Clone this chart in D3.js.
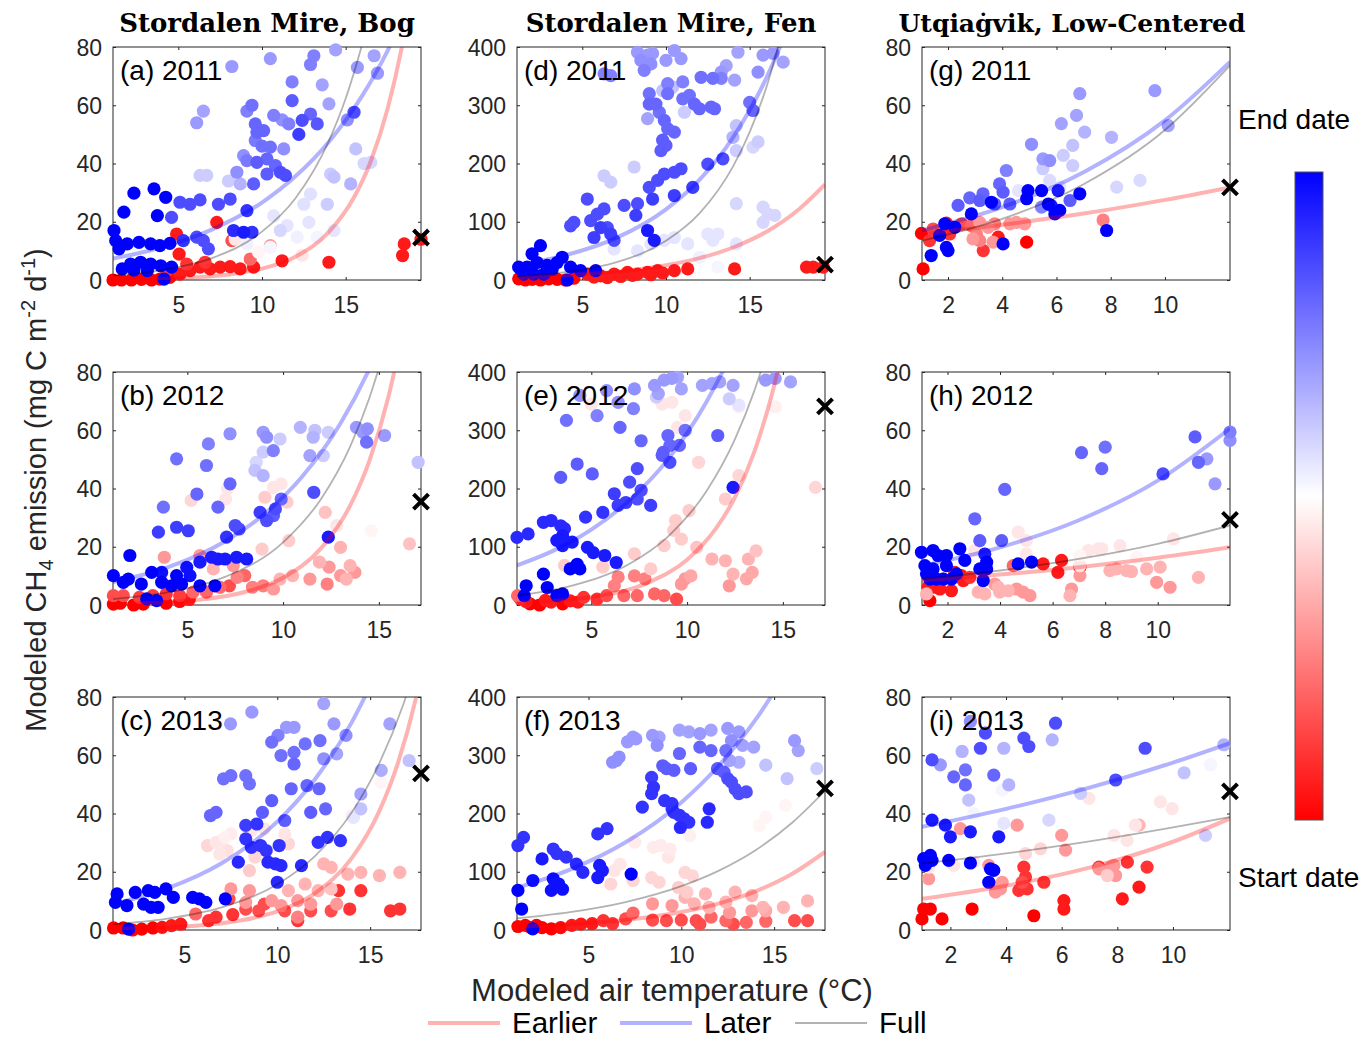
<!DOCTYPE html>
<html><head><meta charset="utf-8">
<script src="https://cdn.jsdelivr.net/npm/d3@7"></script>
<style>body{margin:0;background:#fff} svg{display:block}</style>
</head><body><svg id="chart" width="1364" height="1038"></svg>
<script>
// ---------------- DATA ----------------
const panelLetters = ['a','b','c','d','e','f','g','h','i'];
const panelYears = ['2011','2012','2013','2011','2012','2013','2011','2012','2013'];
const siteTitles = ['Stordalen Mire, Bog','Stordalen Mire, Fen','Utqiaġvik, Low-Centered'];
const xDomains = [[1.1,19.5],[1.12,17.2],[1.15,17.74],[1.1,19.5],[1.12,17.2],[1.15,17.74],[1.04,12.4],[1.03,12.75],[0.98,12.05]];
const yMaxBySite = [80,400,80];
const xTicksBySite = [[5,10,15],[5,10,15],[2,4,6,8,10]];
const yTicksBySite = [[0,20,40,60,80],[0,100,200,300,400],[0,20,40,60,80]];
const legendLabels = ['Earlier','Later','Full'];
const colorbarLabels = ['End date','Start date'];

// points: [temperature, emission, date fraction (0 = start, 1 = end)]
const points_a = [[8.2,73.3,.7],[10.5,76,.7],[13.1,77,.75],[12.9,74,.75],[14.4,79,.68],[16.7,77,.68],[15.7,73,.7],[16.9,71,.7],[11.8,68,.75],[13.6,67,.68],[11.8,61.6,.82],[14.0,60.5,.68],[9.1,58,.75],[9.4,60,.78],[6.5,58,.68],[6.1,54,.7],[10.7,56.5,.75],[11.2,55,.72],[11.6,53.6,.75],[9.6,53.6,.8],[9.7,50.7,.8],[10.1,51.3,.8],[12.9,57,.8],[12.4,54.8,.85],[13.3,53.6,.83],[12.2,50,.88],[15.5,57.6,.85],[15.1,55,.72],[15.6,45,.62],[9.6,47.9,.76],[10.0,46,.78],[10.5,45.6,.78],[11.3,45,.72],[8.9,42.7,.72],[9.1,41,.76],[9.7,40.4,.82],[10.3,41.6,.8],[10.8,39.3,.8],[6.3,35.9,.6],[6.7,35.9,.6],[8.0,34,.6],[8.5,37,.72],[8.7,33,.65],[9.5,33,.82],[10.3,36.4,.82],[11.1,37,.85],[11.4,35.9,.85],[14.1,36.4,.6],[14.3,35.3,.62],[15.3,33,.65],[16.5,40.4,.58],[16.1,40,.58],[12.9,29.5,.56],[12.5,26,.56],[13.9,26,.6],[10.7,22,.55],[11.5,18.7,.55],[11.1,17,.58],[12.8,19.8,.55],[14.3,17,.55],[12.1,14.7,.53],[13.3,14.7,.52],[9.1,12.4,.53],[10.5,11.2,.52],[9.8,9.5,.48],[8.4,14,.45],[11.6,13,.5],[12.4,8.5,.45],[10,18,.5],
[5.1,26.7,.85],[5.7,26,.85],[6.3,27.5,.85],[7.4,26,.85],[8.1,27.8,.85],[4.6,21.5,.85],[9.1,23.8,.9],[5.3,13.5,.9],[6.1,14.7,.85],[6.5,13.5,.85],[6.8,10.7,.85],[8.3,17,.92],[8.9,16.4,.95],[9.4,16.4,.9],
[1.16,17,1],[1.26,13.5,1],[1.46,10.7,1],[1.95,12.4,1],[2.65,12.9,1],[3.35,12.4,1],[3.9,11.8,1],[4.5,12.6,1],[1.75,23.3,1],[2.35,29.8,1],[3.55,31.3,1],[4.25,28.4,1],[3.75,22.1,1],[1.65,3.8,1],[2.15,5.5,1],[2.75,6.1,1],[3.35,5.5,1],[3.95,4.9,1],[4.6,4.4,1],[4.15,0.3,1],[2.35,3.4,1],[3.15,3.2,1],
[1.1,0,0],[1.6,0,0],[2.2,0,0],[2.8,0.2,0],[3.4,0,0],[3.9,0.3,0],[4.5,0.9,.02],[5.1,2,.05],[5.7,3.2,.05],[6.3,4.4,.05],[6.9,3.8,.05],[7.5,4.4,.05],[8.1,4.6,.05],[8.7,3.8,.05],[9.5,4.4,.05],[11.2,6.6,.05],[14.0,6.1,.05],[18.4,8.4,.05],[18.5,12.4,.05],[19.5,14,.05],[4.9,15.8,.05],[5.05,8.9,.05],[7.3,19.8,.05],[8.2,13.5,.15],[9.3,7.2,.2],[10.5,11.8,.3],[4.3,3.2,.1],[5.5,5.5,.1],[6.6,6.1,.1]];

const points_b = [[4.44,50.2,.78],[6.1,55.3,.75],[7.23,58.8,.72],[6.0,47.9,.78],[5.5,38.1,.8],[3.75,33.6,.78],[7.23,41.6,.8],[6.6,33.6,.8],[8.96,59.3,.7],[9.14,57.6,.72],[9.84,57,.6],[9.49,53,.75],[8.96,52.5,.6],[8.53,46.2,.62],[8.96,44.4,.65],[8.6,49,.58],[10.9,61,.65],[11.66,60,.62],[12.36,59.3,.6],[11.57,57.6,.65],[11.4,51.3,.68],[12.1,51.3,.6],[13.83,61,.7],[14.18,59.3,.7],[14.4,60.5,.72],[15.3,58.2,.7],[14.36,55.9,.78],[17.05,49,.62],
[11.6,38.7,.85],[9.9,36.4,.8],[9.6,33,.85],[8.8,31.8,.88],[9.14,29,.85],[9.5,30.7,.82],[7.5,27.3,.85],[7.7,26.1,.85],[7.05,23.3,.9],[12.36,23.3,.95],[4.44,26.7,.88],[5.05,25.5,.88],[3.49,25,.88],
[2.0,17,1],[1.14,10.1,1],[1.66,7.8,1],[1.92,8.9,1],[2.6,7.2,1],[3.14,11.2,1],[3.66,11.2,.97],[4.18,6.6,1],[4.7,7.2,1],[4.97,12.9,.97],[5.14,10.1,.97],[5.66,14.7,.95],[6.27,16.4,.95],[6.6,15.8,.95],[6.97,15.8,.95],[7.57,16.4,.95],[8.1,15.8,.95],[6.44,6.6,1],[2.88,2.1,1],[3.4,1.5,1],[3.66,7.8,1],[4.44,10.1,1],[5.66,6.6,1],
[1.14,0.3,0],[1.5,0.6,0],[2.2,0,0],[2.7,0.3,0],[3.9,0.6,0],[4.6,1.2,.02],[5.1,1.9,.05],[1.14,3.2,.15],[1.66,3.2,.15],[2.5,2.6,.12],[3.2,3.2,.12],[3.9,3.8,.1],[4.6,3.2,.12],[5.3,4.4,.2],[6.0,4.4,.2],[6.7,6.1,.2],[7.2,6.6,.15],[7.6,9.5,.25],[7.4,13.5,.3],[8.0,10.1,.2],[8.4,6.1,.25],[8.96,6.6,.25],[9.5,5.5,.3],[9.84,8.9,.35],[10.5,10.1,.35],[10.3,22.1,.4],[8.9,19.2,.4],[5.66,17,.3],[3.8,16.4,.3],[6.36,12.4,.35],
[5.2,35.9,.42],[7.1,40,.45],[9.5,40.4,.45],[9.9,41.6,.45],[7.0,36.4,.45],[9.05,37,.4],[10.2,35.3,.4],[12.2,31.8,.38],[12.8,27.3,.45],[14.6,25.5,.48],[16.6,21,.38],[13.0,19.8,.35],[11.9,14.7,.35],[12.4,13,.3],[13.5,13.5,.35],[13.0,10.1,.3],[11.4,8.9,.3],[12.3,7.2,.25],[13.3,8.9,.35],[13.75,11.2,.3]];

const points_c = [[7.48,70.8,.7],[8.63,74.8,.7],[12.5,77.7,.68],[10.5,69.6,.7],[10.9,69.6,.7],[10.04,66.8,.75],[13.05,70.8,.7],[16.06,70.8,.68],[13.7,66.8,.72],[13.2,60.5,.68],[12.5,58.8,.72],[15.6,54.8,.66],[17.1,58.2,.62],[14.5,46.7,.68],[14.5,41.6,.62],[14.1,38.7,.55],
[9.7,64.5,.78],[10.2,59.9,.78],[10.9,61,.78],[10.9,57,.8],[11.5,63.9,.78],[12.3,65,.78],[10.75,48.5,.8],[11.6,49.6,.8],[12.25,48.5,.8],[8.3,53,.78],[8.5,50.2,.78],[7.1,51.9,.78],[7.5,53,.78],[6.4,39.3,.8],[6.7,40.4,.8],[9.7,44.4,.82],[9.2,40.4,.82],[10.4,37.6,.82],[11.8,40.4,.82],[12.6,41.6,.8],
[8.3,35.9,.88],[8.9,36.4,.9],[8.3,31.3,.9],[8.6,28.4,.9],[9.1,29,.9],[9.4,27.3,.9],[10.1,29,.9],[7.9,23.3,.92],[9.5,23.3,.92],[9.9,22.7,.92],[10.2,22.1,.92],[11.3,22.1,.92],[10,16.4,.92],[12.2,30.1,.9],[12.7,31.8,.9],[13.4,30.7,.9],
[1.37,12.4,1],[1.28,9.5,1],[1.9,8.4,1],[2.35,12.9,1],[3.05,13.5,1],[3.4,12.9,1],[4.0,14.1,1],[2.8,8.9,1],[3.2,7.8,1],[3.58,7.8,1],[4.4,11.2,1],[5.44,11.2,1],[5.8,10.7,1],[6.15,9.5,1],[7.2,10.7,1],[1.99,0.3,1],
[6.24,29,.42],[6.7,30.1,.45],[7.0,30.7,.45],[7.2,31.8,.47],[7.5,33,.46],[7.3,27.3,.44],[6.9,26.1,.45],[8.5,20.4,.4],[8.8,25,.42],[8.6,34.1,.45],[10.4,33,.45],[10.6,29.6,.42],[9.3,34.7,.45],[14,39.3,.47],[15.6,50.7,.48],
[12.5,22.7,.35],[12.9,21.5,.35],[13.8,19.2,.35],[14.5,19.8,.35],[15.5,18.7,.35],[16.6,19.8,.35],[11.5,15.8,.35],[12.2,13.5,.35],[12.9,14.1,.38],[10.6,13.5,.35],[11.1,10.1,.3],[9.7,10.1,.3],[10.2,8.4,.3],[8.3,9.5,.3],[7.5,14.1,.3],[8.5,13.5,.3],[11.8,8.9,.3],[13.2,8.9,.3],[11.1,4.4,.25],
[1.18,0.7,0],[1.7,0.7,0],[2.2,0,0],[2.7,0.3,0],[3.3,0.7,0],[3.8,0.9,.03],[4.3,1.5,.05],[4.8,2,.05],[5.6,5.5,.2],[6.3,3.2,.1],[6.7,4.4,.1],[7.6,5.3,.1],[8.3,7.2,.15],[9.0,6.6,.15],[9.3,8.9,.15],[11.1,3.2,.1],[10.4,6.6,.15],[11.8,6.6,.15],[12.9,6.6,.15],[13.3,13.5,.1],[14.5,13.5,.1],[13.9,7.2,.1],[16.1,6.6,.1],[16.6,7.2,.1],[7.4,10.7,.15]];

const points_d = [[8.3,391,.7],[8.9,386,.7],[9.2,389,.7],[10,377,.7],[10.5,394,.7],[10.9,380,.7],[14.3,391,.68],[15.8,386,.7],[16.4,389,.7],[17.0,374,.68],[15.5,357,.72],[13.6,368,.68],[13.3,357,.7],[6.3,354,.75],[6.7,351,.75],[8.7,360,.75],[9.1,371,.72],[8.5,377,.72],[10.1,337,.75],[10.4,331,.62],[11,340,.75],[12.1,348,.78],[12.8,346,.78],[13.3,346,.75],[14.1,343,.68],[9.0,320,.78],[9.8,325,.62],[10.1,320,.78],[11,311,.78],[11.4,317,.78],[11.7,302,.8],[12,294,.8],[12.7,297,.8],[12.9,294,.8],[9,302,.8],[9.4,302,.8],[9.6,288,.78],[8.9,277,.68],[9.9,274,.8],[10.1,260,.8],[10.5,254,.8],[11.1,288,.6],[9.8,240,.82],[9.7,222,.82],[10,231,.82],[15,305,.78],[15.2,291,.8],[14,245,.65],[14.2,265,.62],[15.5,237,.6],[15.2,228,.58],[14.2,222,.6],[6.3,179,.6],[6.7,168,.6],[8.1,194,.6],[14.2,131,.58],[15.8,125,.58],[16.1,113,.58],[15.8,99,.58],[16.5,111,.58],[12.5,79,.55],[13.1,79,.55],[12.8,68,.55],[14.2,62,.55],[10.5,73,.55],[11.3,62,.55],[8.3,50,.55],[9.1,62,.55],[9.9,68,.55],[6.9,53,.55],[12,39,.53],[13.1,22,.52],
[13.4,208,.85],[12.5,199,.85],[11.6,159,.88],[10.5,185,.85],[10.9,191,.85],[9.9,182,.85],[9.5,171,.85],[9.2,139,.88],[9,159,.85],[8.3,131,.85],[8.2,111,.88],[7.5,128,.85],[10.5,145,.88],[5.3,139,.85],[4.5,99,.85],[4.3,93,.85],[5.5,102,.85],[5.9,113,.85],[6.3,122,.85],[6.1,90,.88],[5.7,73,.88],[6.7,79,.88],[6.9,68,.85],[6.5,90,.85],[8.9,85,.95],[9.3,68,.95],
[2.5,59,1],[2,45,1],[1.3,19,1],[1.7,22,1],[2.3,30,1],[2.9,25,1],[3.5,30,1],[3.8,39,1],[4.3,22,1],[4.9,16,1],[5.8,16,1],[2.1,10,1],[4.1,0,1],[1.5,10,1],[2.7,10,1],[3.2,18,1],[1.2,22,1],
[1.2,2,0],[1.6,0,0],[2,1,0],[2.5,0,0],[3,2,0],[3.5,1,0],[4,0,0],[4.5,3,.02],[5.3,10,.05],[6.1,7,.05],[6.9,10,.05],[7.7,13,.05],[8.3,10,.05],[8.9,13,.05],[9.5,16,.05],[10.5,16,.05],[11.3,19,.05],[14.1,19,.05],[18.4,22,.05],[18.8,22,.05],[19.4,22,.05],[5.7,5,.05],[6.5,4,.05],[7.3,6,.05],[8,8,.05],[9.1,9,.05],[9.8,12,.05]];

const points_e = [[8.3,377,.7],[8.5,363,.68],[8.8,386,.7],[9.2,389,.7],[9.5,391,.68],[9.7,371,.68],[10.8,377,.68],[11.3,380,.68],[11.7,383,.68],[12.4,377,.68],[12.2,354,.6],[12.7,343,.55],[14.1,386,.7],[14.6,389,.7],[15.4,383,.68],[8.4,357,.6],[4.4,360,.72],[5.8,368,.72],[6.4,348,.72],[7.25,371,.72],[7.2,337,.75],[5.3,325,.75],
[5,345,.45],[8.7,345,.45],[9.2,348,.45],[9.9,325,.45],[14.6,340,.47],[12.7,340,.47],[9.5,305,.45],
[3.7,317,.78],[6.5,305,.8],[7.6,282,.8],[9.9,300,.78],[9,291,.8],[9.1,274,.8],[9.6,274,.8],[8.75,262,.82],[8.7,257,.82],[9.1,245,.85],[11.6,291,.82],[3.4,219,.82],[4.26,242,.82],[5.05,225,.82],[7.4,234,.85],[7.0,211,.85],[7.6,197,.85],[7.4,182,.85],[8.1,171,.88],[6.2,191,.88],[6.4,171,.88],[6.8,176,.88],
[1.12,116,.92],[1.7,122,.92],[2.5,142,.92],[2.9,145,.92],[3.4,136,.92],[3.6,131,.92],[3.5,119,.95],[3.2,111,.95],[3.5,102,.95],[4.0,108,.95],[4.7,151,.9],[5.6,159,.9],[4.8,99,.95],[5.1,90,.95],[5.7,85,.95],[6.3,73,.95],[4.26,70,1],[4.4,62,1],[3.9,62,1],[2.5,53,1],[1.6,33,1],[2.7,30,1],[3.2,16,1],[3.5,19,1],[1.5,16,1],[12.4,202,.95],
[10.6,245,.42],[12.7,222,.42],[12,182,.4],[10.1,162,.4],[9.4,145,.4],[9.3,128,.4],[9.7,113,.4],[8.8,102,.4],[16.7,202,.42],[7.25,88,.4],[8.1,62,.4],[5.6,65,.4],[3.6,68,.4],[10.5,99,.38],
[11.3,79,.35],[12,76,.35],[12.4,53,.35],[13.2,79,.35],[13.6,93,.38],[13.1,45,.33],[12.2,33,.3],[13.4,56,.33],[10.2,50,.33],
[6.4,48,.25],[7.25,50,.25],[7.8,45,.25],[6.2,33,.25],[6.7,16,.2],[7.4,16,.2],[8.3,19,.2],[8.8,16,.2],[9.45,10,.15],[9.7,36,.3],[9.9,45,.3],[5.8,16,.15],[4.6,13,.1],[5.3,10,.1],[4.3,5,.05],[1.15,16,.2],[1.3,10,.1],[1.8,2,0],[2.3,0,0],[2.9,5,.05],[3.5,2,0],[3.9,7,.05],[1.6,6,.05],[2.6,8,.05]];

const points_f = [[7.4,331,.7],[7.55,328,.7],[7.1,323,.7],[8.45,334,.7],[8.8,331,.68],[8.7,317,.72],[9.9,343,.68],[10.4,340,.68],[11,337,.7],[11.6,343,.68],[12.5,346,.7],[13.1,340,.7],[12.7,325,.72],[13.3,317,.68],[13.9,314,.68],[12.6,291,.68],[13.1,288,.66],[14.55,283,.62],[16.1,325,.7],[16.3,308,.68],[15.7,260,.62],[17.3,277,.6],[6.3,288,.72],[6.65,297,.72],[6.5,291,.72],
[11,314,.8],[11.6,308,.8],[9.9,303,.8],[9,282,.82],[9.2,277,.82],[9.6,274,.82],[10.5,277,.82],[11.95,277,.82],[12.3,271,.82],[12.5,260,.85],[12.7,254,.85],[12.9,242,.85],[13.1,234,.85],[13.5,237,.85],[12.4,308,.78],
[8.4,262,.88],[8.5,245,.9],[8.4,234,.9],[7.9,211,.9],[9.1,222,.9],[9.5,217,.9],[9.6,202,.9],[9.9,197,.9],[10.15,191,.9],[10.4,185,.9],[9.95,176,.92],[11.4,185,.92],[11.5,208,.92],[9.5,208,.9],[5.5,165,.9],[6,174,.9],[5.6,111,.95],[5.75,102,.95],[5.5,90,.95],[7.3,96,1],
[1.2,145,.9],[1.5,159,.9],[3.1,139,.9],[3.3,131,.9],[3.8,125,.9],[4.35,113,.92],[4.7,99,.92],[2.5,122,.95],[2,85,.97],[3.1,88,.97],[3.4,79,.97],[3,68,.97],[3.6,70,.97],[1.2,68,1],[1.4,36,1],[2,2,1],
[7.5,151,.46],[8.5,142,.46],[8.9,145,.46],[9.3,125,.45],[6.7,113,.45],[6.4,102,.45],[6.2,79,.42],[7.4,85,.42],[8.4,90,.42],[8.8,82,.42],[10.2,99,.42],[10.6,93,.42],[9.85,73,.4],[10.3,65,.4],[10.45,162,.47],[14.2,179,.48],[14.55,194,.48],[15.6,214,.48],[9.4,139,.46],
[10.2,56,.35],[10.7,45,.35],[11.5,39,.35],[12.4,48,.35],[12.9,65,.35],[13.8,59,.35],[14.4,39,.35],[14.55,33,.33],[15.5,39,.35],[16.8,50,.35],[13.8,33,.3],[12.6,30,.3],[8.45,45,.3],[9.5,42,.3],[11.3,62,.35],
[1.2,6,0],[1.9,4,0],[2.5,4,0],[3,2,0],[3.5,4,.02],[4.1,8,.05],[4.6,10,.05],[5.2,11,.05],[5.8,16,.1],[6.3,11,.1],[7,19,.15],[7.4,29,.2],[8.45,17,.15],[9.2,16,.15],[10,17,.15],[10.8,16,.15],[11.6,22,.2],[12.4,16,.2],[13.5,13,.2],[14.55,15,.2],[16.1,16,.15],[16.8,16,.15],[11,10,.15],[12.8,10,.15],[1.6,8,0],[2.2,8,0]];

const points_g = [[1.08,3.8,0],[1.02,16,0],[1.32,13.5,.1],[1.45,17.5,.15],[1.94,19.5,.05],[2.06,15.8,.1],[2.5,19.3,.15],[2.86,18.7,.2],[3.05,15.8,.25],[3.17,13.5,.25],[3.3,10.1,.1],[3.48,18.1,.3],[3.72,19.3,.25],[3.85,14.7,.05],[3.66,13,.3],[4.28,19.3,.3],[4.52,19.8,.3],[4.83,19.3,.3],[4.9,13,0],[7.72,20.6,.25],[3.17,19.8,.3],[2.92,14.1,.3],
[1.38,8.4,1],[1.69,15.3,1],[1.88,19.3,1],[1.94,11.2,1],[2.0,10.1,1],[2.25,18.1,1],[2.86,22.7,1],[3.6,26.7,1],[4.03,12.4,1],[4.9,27.9,1],[4.95,30.7,1],[5.45,30.7,1],[5.7,26.1,1],[5.8,25.6,.95],[5.94,22.7,1],[6.12,23.9,1],[6.06,30.7,.95],[6.86,29.6,1],[7.85,17,1],
[2.37,25.6,.82],[2.8,28.2,.8],[3.17,27.3,.82],[3.29,29.6,.8],[3.9,33,.8],[4.03,30.2,.82],[4.15,37.6,.75],[4.28,26.1,.82],[5.5,41.6,.7],[5.08,46.6,.72],[5.75,41,.72],[6.5,27.3,.82],[5.45,25,.75],[3.72,26.1,.82],
[6.18,53.7,.68],[6.74,56.5,.68],[6.86,64,.7],[7.04,50.8,.65],[6.6,46.2,.62],[6.25,42.8,.6],[6.6,39.3,.6],[5.5,38.2,.6],[5.75,34.2,.57],[4.6,30.7,.55],[8.03,49,.65],[8.22,31.9,.58],[9.08,34.2,.57],[9.63,65,.7],[10.12,53,.68],[6.12,31.9,.55]];

const points_h = [[1.01,18.1,1],[1.14,13.5,1],[1.33,8.9,1],[1.45,18.7,1],[1.64,17,1],[1.2,10.7,1],[1.84,8.9,1],[1.96,13.5,1],[1.96,17,1],[2.34,10.7,1],[2.47,19.3,1],[1.45,12.4,1],[2.15,8.9,1],[1.58,8.9,1],[2.66,15.3,1],[3.23,12.4,1],[3.49,14.7,1],[3.49,12.4,1],[3.36,8.4,1],[3.42,17.5,.95],[4.69,14.1,1],[5.2,14.7,1],
[3.04,29.6,.8],[3.23,22.1,.82],[4.06,22.1,.82],[4.18,39.7,.8],[7.1,52.3,.8],[7.87,46.8,.8],[8.0,54.2,.78],[10.2,45,.85],[11.42,57.7,.82],[11.55,49,.8],[12.75,59.4,.75],
[11.87,50.2,.7],[12.18,41.6,.7],[12.75,56.5,.72],
[3.04,18.7,.45],[4.69,25,.45],[5.0,22.1,.45],[5.0,17.5,.45],[7.04,17,.48],[7.36,18.7,.45],[7.74,19.3,.45],[7.87,19.3,.45],[8.56,20.4,.45],[9.2,16.4,.48],[10.6,22.7,.45],[11.6,23.9,.5],[7.04,13.5,.45],
[1.2,3.8,.35],[3.17,4.4,.35],[3.42,3.8,.35],[3.93,6.1,.35],[3.99,4.4,.35],[4.31,4.9,.35],[4.63,5.5,.3],[4.88,4.4,.3],[5.14,3.2,.3],[6.66,3.2,.35],[6.72,5.5,.3],[8.18,11.8,.35],[8.43,12.4,.35],[8.81,11.8,.35],[9.0,11.5,.35],[9.58,12.4,.35],[10.09,13,.35],[9.96,7.8,.3],[10.47,6.1,.3],[11.55,9.5,.35],[7.04,10.1,.3],[3.8,7.2,.3],
[1.33,1.5,0],[1.26,6.1,.05],[1.71,5.5,.05],[1.84,8.9,.1],[2.15,4.9,.05],[2.28,11.2,.05],[2.53,10.1,.05],[2.85,9.5,.1],[2.6,8.4,.05],[5.64,14.1,.05],[6.34,15.3,.05],[6.2,11.2,.05],[7.04,13,.05],[4.5,13.5,.2],[1.45,6.1,.05]];

const points_i = [[1.04,24.5,1],[1.1,22.2,1],[1.28,25.6,1],[1.34,23.9,1],[1.94,23.9,1],[2.72,23,1],[3.44,21,1],[3.56,20.5,1],[3.38,16.4,1],[1.34,37.7,.95],[1.82,36,.95],[2.0,32,.95],[2.72,33.7,.95],[3.74,32,.95],
[1.34,58.4,.85],[3.08,62.4,.85],[3.26,67.6,.85],[4.64,65.9,.85],[4.82,63,.85],[5.78,71,.85],[7.94,51.5,.85],[9.0,62.4,.85],[2.12,52.6,.8],[2.54,49.8,.8],[3.56,53.2,.8],[2.54,55,.78],
[1.64,56.7,.7],[2.42,61.3,.65],[2.72,71.6,.72],[3.92,62.4,.65],[4.1,49.8,.65],[2.66,44.6,.62],[5.66,65.3,.65],[6.68,46.9,.6],[5.54,37.7,.58],[3.92,36.6,.55],[3.86,48,.52],[10.4,54,.62],[11.17,32.5,.6],[11.83,63.6,.65],[11.35,56.7,.52],[2.84,40,.52],
[6.98,45.2,.45],[9.55,44,.45],[9.97,41.7,.45],[8.65,36,.45],[7.88,32.5,.45],[8.35,30.8,.45],[5.24,27.9,.42],[4.7,26.2,.42],[2.84,23.3,.45],[2.12,22.2,.45],[1.22,21.6,.45],[7.64,18.7,.4],
[2.36,34.8,.3],[4.4,36,.3],[6.0,32.5,.3],[6.14,27.4,.3],[7.76,21.6,.3],[7.88,22.2,.3],[7.34,21,.3],[8.78,36,.35],[1.22,17.6,.3],[3.38,22.2,.3],[3.86,16.4,.3],[3.68,14.7,.3],[3.62,13,.3],[3.8,14.1,.3],[7.94,18.7,.3],
[1.04,7.2,0],[0.98,3.8,0],[1.28,7.2,0],[1.7,3.8,0],[2.78,7.2,0],[5.0,4.9,0],[6.08,10.1,.05],[6.08,7.2,.05],[5.36,16.4,.1],[4.64,21.6,.1],[4.7,18.2,.1],[4.58,16.4,.15],[4.76,14.1,.1],[4.46,13.6,.1],[8.18,10.7,.05],[8.78,14.7,.05],[8.36,23.3,.1],[9.07,21.6,.1],[7.34,21.6,.1]];

// fitted curves: [temperature, emission]
const earlierCurves = [
 [[1.1,0.16],[5,0.64],[8,1.9],[10,3.9],[12,8.0],[14,16.5],[15.5,28.4],[16.5,40.8],[17.5,58.7],[18.3,78.4],[18.6,87.4]],
 [[1.12,0.35],[5,1.47],[8,4.46],[10,9.34],[12,19.6],[13.5,34.1],[14.5,49.4],[15.5,71.5],[16,86]],
 [[1.15,0.32],[5,1.18],[8,3.24],[10,6.37],[12,12.5],[14,24.6],[15.5,40.9],[16.5,57.4],[17.5,80.4],[17.74,87.2]],
 [[1.1,4.42],[4,7.8],[7,14.1],[10,25.4],[12,37.6],[14,55.8],[16,82.8],[18,122.8],[19.5,164]],
 [[1.12,3.57],[5,13.7],[8,38.8],[10,77.8],[11.5,131],[12.5,185],[13.5,262],[14.5,371],[15,441]],
 [[1.15,5.75],[5,12],[8,21.2],[10,31],[12,45.4],[14,66.4],[16,97],[17.74,134]],
 [[1.04,15.8],[4,19],[7,22.8],[10,27.5],[12.4,31.8]],
 [[1.03,8.41],[4,10.45],[7,13.0],[10,16.2],[12.75,19.8]],
 [[0.98,10.7],[4,15.2],[7,21.4],[10,30.3],[12.05,38.3]]];
const laterCurves = [
 [[1.1,7.35],[4,11.2],[7,17.3],[10,26.6],[12,35.6],[14,47.5],[16,63.4],[17.5,78.7],[18,84.7]],
 [[1.12,7.9],[4,13],[7,22],[9,31.1],[11,44.1],[13,62.4],[14.4,79.6],[15,88.4]],
 [[1.15,8.9],[4,14.1],[7,22.9],[10,37.2],[12,51.5],[14,71.2],[15,83.7]],
 [[1.1,25.7],[4,42.5],[7,71.8],[10,121.4],[12,172],[14,244.5],[16,347],[17,413]],
 [[1.12,68.2],[3,93],[5,129.4],[7,180],[9,250],[11,348],[12,410.6],[12.5,446]],
 [[1.15,72.3],[4,103.5],[7,150.6],[10,219],[12,281.5],[14,361],[15,409]],
 [[1.04,17.0],[4,25.0],[7,37.0],[10,54.8],[12.4,74.9]],
 [[1.03,13.5],[4,19.8],[7,29.1],[10,42.7],[12.75,60.6]],
 [[0.98,35.4],[4,41.6],[7,48.9],[10,57.5],[12.05,64.2]]];
const fullCurves = [
 [[1.1,1.57],[4,3.38],[7,7.48],[10,16.6],[12,28.1],[14,47.8],[15,62.3],[16,81.2],[16.5,92]],
 [[1.12,2.05],[4,4.39],[7,9.72],[10,21.5],[12,36.6],[13.5,54.4],[14.5,71],[15.5,92.4]],
 [[1.15,2.0],[4,3.84],[7,7.77],[10,15.7],[12,25.2],[14,40.3],[15.5,57.3],[16.8,77.7],[17.2,85.4]],
 [[1.1,6.35],[4,13.6],[7,30.2],[10,67.3],[12,114.4],[14,194.7],[15,254],[16,331],[17,432]],
 [[1.12,16],[4,33.1],[7,70.8],[9,117.5],[11,194.8],[12.5,284.6],[13.5,366.7],[14.2,437]],
 [[1.15,19.9],[4,30.6],[7,48],[10,75.3],[12,101.6],[14,137],[16,185],[17.74,239]],
 [[1.04,13.5],[4,21.0],[7,32.9],[10,51.5],[12.4,73.7]],
 [[1.03,8.92],[4,11.85],[7,15.8],[10,21.0],[12.75,27.3]],
 [[0.98,22.8],[4,26.3],[7,30.4],[10,35.2],[12.05,38.8]]];
// black x markers at the right edge
const obsMarkers = [[19.5,14.6],[17.2,35.5],[17.74,53.8],[19.5,26.5],[17.2,341],[17.74,243],[12.4,31.8],[12.75,29.2],[12.05,47.6]];

const pointsByPanel = [points_a,points_b,points_c,points_d,points_e,points_f,points_g,points_h,points_i];

// ---------------- DRAW ----------------
const svg = d3.select('#chart');
const sans = 'Liberation Sans, Arial, Helvetica, sans-serif';
const colLeft = [113,517,922], rowTop = [47,372,697], W = 308, H = 233;
const axisColor = '#262626';
const dateColor = d3.scaleLinear().domain([0,0.5,1]).range(['#ff0000','#ffffff','#0000ff']);
const lineStyles = [
  {stroke:'rgba(255,0,0,0.3)', width:4},
  {stroke:'rgba(0,0,255,0.3)', width:4},
  {stroke:'rgba(0,0,0,0.3)', width:1.8}
];
const defs = svg.append('defs');

panelLetters.forEach((letter, p) => {
  const col = Math.floor(p/3), row = p%3;
  const gx = colLeft[col], gy = rowTop[row];
  const g = svg.append('g').attr('transform', `translate(${gx},${gy})`);
  const x = d3.scaleLinear().domain(xDomains[p]).range([0,W]);
  const y = d3.scaleLinear().domain([0,yMaxBySite[col]]).range([H,0]);

  defs.append('clipPath').attr('id','clip'+p).append('rect').attr('width',W).attr('height',H);

  // axes (inward ticks on all four sides)
  const fmt = d3.format('d');
  const ax = [
    g.append('g').attr('transform',`translate(0,${H})`).call(d3.axisBottom(x).tickValues(xTicksBySite[col]).tickSize(-3).tickSizeOuter(0).tickPadding(10).tickFormat(fmt)),
    g.append('g').call(d3.axisLeft(y).tickValues(yTicksBySite[col]).tickSize(-3).tickSizeOuter(0).tickPadding(10).tickFormat(fmt)),
    g.append('g').call(d3.axisTop(x).tickValues(xTicksBySite[col]).tickSize(-3).tickSizeOuter(0).tickFormat('')),
    g.append('g').attr('transform',`translate(${W},0)`).call(d3.axisRight(y).tickValues(yTicksBySite[col]).tickSize(-3).tickSizeOuter(0).tickFormat(''))
  ];
  ax.forEach(a => {
    a.select('.domain').remove();
    a.selectAll('line').attr('stroke', axisColor);
    a.selectAll('text').attr('fill', axisColor).style('font-family', sans).style('font-size','23px');
  });
  ax[0].selectAll('text').attr('dy', null).attr('y', 33);
  ax[1].selectAll('text').attr('x', -11).attr('dy','0.35em');
  g.append('rect').attr('width',W).attr('height',H).attr('fill','none').attr('stroke',axisColor).attr('stroke-width',1);

  // points, in date order
  const pts = pointsByPanel[p].slice().sort((a,b)=>a[2]-b[2]);
  g.append('g').selectAll('circle').data(pts).join('circle')
    .attr('cx', d=>x(d[0])).attr('cy', d=>y(d[1])).attr('r', 6.6)
    .attr('fill', d=>dateColor(d[2]));

  // curves
  const line = d3.line().x(d=>x(d[0])).y(d=>y(d[1])).curve(d3.curveMonotoneX);
  const cg = g.append('g').attr('clip-path', `url(#clip${p})`);
  [earlierCurves[p], laterCurves[p], fullCurves[p]].forEach((c,k) => {
    cg.append('path').datum(c).attr('d', line).attr('fill','none')
      .attr('stroke', lineStyles[k].stroke).attr('stroke-width', lineStyles[k].width).attr('stroke-linecap','butt');
  });

  // observation marker
  const m = obsMarkers[p];
  g.append('path').attr('transform', `translate(${x(m[0])},${y(m[1])})`)
    .attr('d','M-7.5,-7.5L7.5,7.5M-7.5,7.5L7.5,-7.5').attr('stroke','#000').attr('stroke-width',4);

  // panel label
  g.append('text').attr('x',7).attr('y',33).style('font-family',sans).style('font-size','28px').attr('fill','#000')
    .text(`(${letter}) ${panelYears[p]}`);

  // site title
  if (row === 0) {
    svg.append('text').attr('x', gx + W/2 - (col===2 ? 4 : 0)).attr('y', 32).attr('text-anchor','middle')
      .style('font-family','DejaVu Serif, serif').style('font-weight','bold')
      .style('font-size', col===2 ? '25px' : '26px').attr('fill','#000')
      .text(siteTitles[col]);
  }
});

// y axis label
const yl = svg.append('text').attr('transform','translate(46,490) rotate(-90)').attr('text-anchor','middle')
  .style('font-family',sans).style('font-size','29px').attr('fill','#262626');
yl.append('tspan').text('Modeled CH');
yl.append('tspan').attr('dy',7).style('font-size','20px').text('4');
yl.append('tspan').attr('dy',-7).text(' emission (mg C m');
yl.append('tspan').attr('dy',-11).style('font-size','20px').text('-2');
yl.append('tspan').attr('dy',11).text(' d');
yl.append('tspan').attr('dy',-11).style('font-size','20px').text('-1');
yl.append('tspan').attr('dy',11).text(')');

// x axis label
svg.append('text').attr('x',672).attr('y',1001).attr('text-anchor','middle')
  .style('font-family',sans).style('font-size','31px').attr('fill','#262626')
  .text('Modeled air temperature (°C)');

// legend
const legendX = [428, 620, 795];
legendLabels.forEach((lab,k) => {
  svg.append('line').attr('x1',legendX[k]).attr('x2',legendX[k]+72).attr('y1',1023).attr('y2',1023)
    .attr('stroke',lineStyles[k].stroke).attr('stroke-width',lineStyles[k].width);
  svg.append('text').attr('x',legendX[k]+84).attr('y',1033)
    .style('font-family',sans).style('font-size','29.5px').attr('fill','#000').text(lab);
});

// colorbar
const grad = defs.append('linearGradient').attr('id','cbar').attr('x1',0).attr('x2',0).attr('y1',1).attr('y2',0);
[0,0.25,0.5,0.75,1].forEach(t => grad.append('stop').attr('offset',t).attr('stop-color',dateColor(t)));
svg.append('rect').attr('x',1295).attr('y',172).attr('width',28).attr('height',648)
  .attr('fill','url(#cbar)').attr('stroke','#555').attr('stroke-width',1);
svg.append('text').attr('x',1238).attr('y',129).style('font-family',sans).style('font-size','28px').attr('fill','#000').text(colorbarLabels[0]);
svg.append('text').attr('x',1238).attr('y',887).style('font-family',sans).style('font-size','28px').attr('fill','#000').text(colorbarLabels[1]);
</script>
</body></html>
